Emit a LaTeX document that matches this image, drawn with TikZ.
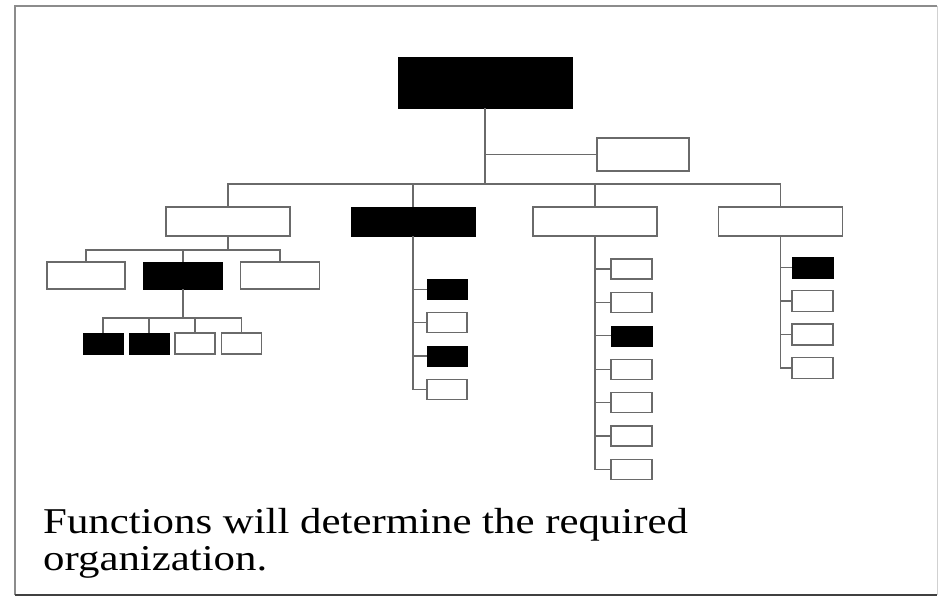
\documentclass[tikz,border=0pt]{standalone}
\usepackage{fontspec}
\newfontfamily\slidefont[FakeStretch=1.18]{Liberation Serif}
\definecolor{linegray}{HTML}{6A6A6A}
\definecolor{framegray}{HTML}{8C8C8C}
\begin{document}
\begin{tikzpicture}[x=1pt,y=-1pt,
  conn/.style={draw=linegray, line width=1.2pt},
  wbox/.style={draw=linegray, fill=white, line width=1.2pt, inner sep=0pt},
  bbox/.style={draw=black, fill=black, line width=0.6pt, inner sep=0pt},
  big/.style={minimum width=124pt, minimum height=29pt},
  mid/.style={minimum width=79pt, minimum height=27pt},
  small/.style={minimum width=40pt, minimum height=20pt},
  caption/.style={anchor=base west, inner sep=0pt, font=\slidefont\fontsize{36.3}{37}\selectfont}]
\useasboundingbox (0,0) rectangle (946,598);
\fill[white] (0,0) rectangle (946,598);
% frame
\draw[framegray, line width=1.2pt] (15,595) -- (15,6) -- (937,6);
\draw[framegray!40, line width=0.8pt] (937,6) -- (937,595);
\draw[black!75, line width=1.6pt] (15,595) -- (937,595);

% top level
\node[bbox, minimum width=174pt, minimum height=51pt] (top) at (485,82.5) {};
\node[wbox, minimum width=92pt, minimum height=33pt] (side) at (643,154.5) {};
\coordinate (bus) at (485,184);

% second level
\node[wbox, big] (b1) at (228,221.5) {};
\node[bbox, big] (b2) at (413,221.5) {};
\node[wbox, big] (b3) at (595,221.5) {};
\node[wbox, big] (b4) at (780.5,221.5) {};

% third level under b1
\node[wbox, mid, minimum width=78pt] (l3a) at (86,275.5) {};
\node[bbox, mid] (l3b) at (183,275.5) {};
\node[wbox, mid] (l3c) at (280,275.5) {};
\coordinate (bus2) at (228,250);

% fourth level under l3b
\node[bbox, small, minimum height=21pt] (l4a) at (103,343.5) {};
\node[bbox, small, minimum height=21pt] (l4b) at (149,343.5) {};
\node[wbox, small, minimum height=21pt] (l4c) at (195,343.5) {};
\node[wbox, small, minimum height=21pt] (l4d) at (241.5,343.5) {};
\coordinate (bus3) at (183,318);

% column under b2
\node[bbox, small] (c1a) at (447,289.5) {};
\node[wbox, small] (c1b) at (447,322.7) {};
\node[bbox, small] (c1c) at (447,355.9) {};
\node[wbox, small] (c1d) at (447,389.1) {};

% column under b3
\node[wbox, small, minimum width=41pt] (c2a) at (631.5,269) {};
\node[wbox, small, minimum width=41pt] (c2b) at (631.5,302.4) {};
\node[bbox, small, minimum width=41pt] (c2c) at (631.5,335.8) {};
\node[wbox, small, minimum width=41pt] (c2d) at (631.5,369.2) {};
\node[wbox, small, minimum width=41pt] (c2e) at (631.5,402.6) {};
\node[wbox, small, minimum width=41pt] (c2f) at (631.5,436) {};
\node[wbox, small, minimum width=41pt] (c2g) at (631.5,469.4) {};

% column under b4
\node[bbox, small, minimum width=41pt, minimum height=21pt] (c3a) at (812.5,267.5) {};
\node[wbox, small, minimum width=41pt, minimum height=21pt] (c3b) at (812.5,301) {};
\node[wbox, small, minimum width=41pt, minimum height=21pt] (c3c) at (812.5,334.5) {};
\node[wbox, small, minimum width=41pt, minimum height=21pt] (c3d) at (812.5,368) {};

% connectors top
\draw[conn] (top.south) -- (bus);
\draw[conn] (side.west) -- (side.west -| top.south);
\draw[conn] (b1.north) |- (bus) -| (b4.north);
\draw[conn] (b2.north) -- (b2.north |- bus);
\draw[conn] (b3.north) -- (b3.north |- bus);

% connectors level 3
\draw[conn] (b1.south) -- (bus2);
\draw[conn] (l3a.north) |- (bus2) -| (l3c.north);
\draw[conn] (l3b.north) -- (l3b.north |- bus2);

% connectors level 4
\draw[conn] (l3b.south) -- (bus3);
\draw[conn] (l4a.north) |- (bus3) -| (l4d.north);
\draw[conn] (l4b.north) -- (l4b.north |- bus3);
\draw[conn] (l4c.north) -- (l4c.north |- bus3);

% columns
\draw[conn] (b2.south) |- (c1d.west);
\foreach \n in {c1a,c1b,c1c} \draw[conn] (\n.west) -- (\n.west -| b2.south);
\draw[conn] (b3.south) |- (c2g.west);
\foreach \n in {c2a,c2b,c2c,c2d,c2e,c2f} \draw[conn] (\n.west) -- (\n.west -| b3.south);
\draw[conn] (b4.south) |- (c3d.west);
\foreach \n in {c3a,c3b,c3c} \draw[conn] (\n.west) -- (\n.west -| b4.south);

% caption
\node[caption] (cap1) at (43,533) {Functions will determine the required};
\node[caption] (cap2) at (43,570) {organization.};
\end{tikzpicture}
\end{document}
